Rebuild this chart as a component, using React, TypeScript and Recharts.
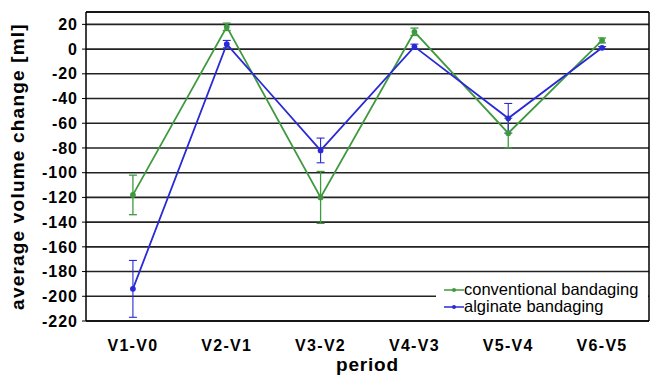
import React from 'react';
import { LineChart, Line, XAxis, YAxis, CartesianGrid, ErrorBar, Legend, ReferenceLine, Label } from 'recharts';

const periods = ['V1-V0', 'V2-V1', 'V3-V2', 'V4-V3', 'V5-V4', 'V6-V5'];
const conventional = [-118, 18, -120, 14, -68, 7];
const conventionalErr = [16, 3, 21, 3, 12, 2];
const alginate = [-194, 4, -82, 2, -56, 1];
const alginateErr = [23, 3, 10, 2, 12, 1];
const yTicks = [20, 0, -20, -40, -60, -80, -100, -120, -140, -160, -180, -200, -220];
const seriesNames = ['conventional bandaging', 'alginate bandaging'];

const GREEN = '#3f9a3f';
const BLUE = '#2a2ad6';
const FONT = '"Liberation Sans", Arial, sans-serif';

const data = periods.map((p, i) => ({
  period: p,
  conv: conventional[i],
  convErr: conventionalErr[i],
  alg: alginate[i],
  algErr: alginateErr[i],
}));

const LegendBox = () => {
  const items = [
    { name: seriesNames[0], color: GREEN },
    { name: seriesNames[1], color: BLUE },
  ];
  return (
    <div style={{ background: '#fff', width: '100%', height: '100%', fontFamily: FONT, fontSize: 16.5, color: '#000', paddingTop: 1, boxSizing: 'border-box' }}>
      {items.map((it) => (
        <div key={it.name} style={{ display: 'flex', alignItems: 'center', height: 17, lineHeight: '17px' }}>
          <svg width={20} height={8} style={{ marginLeft: 8, marginRight: 0 }}>
            <line x1={0} y1={4} x2={20} y2={4} stroke={it.color} strokeWidth={1.5} />
            <circle cx={10} cy={4} r={2} fill={it.color} />
          </svg>
          <span>{it.name}</span>
        </div>
      ))}
    </div>
  );
};

export default function App() {
  return (
    <div style={{ position: 'absolute', left: 0, top: 0, background: '#fff' }}>
      <LineChart width={650} height={375} data={data} margin={{ top: 12, right: 0, left: 0, bottom: 0 }}>
        <CartesianGrid horizontal vertical={false} stroke="#222" strokeWidth={1.6} />
        <XAxis
          dataKey="period"
          scale="band"
          height={54}
          tickLine={false}
          axisLine={{ stroke: '#000', strokeWidth: 1.5 }}
          tickMargin={13}
          tick={{ fill: '#000', fontFamily: FONT, fontSize: 16, fontWeight: 'bold', letterSpacing: 1.3 }}
        >
          <Label
            value="period"
            position="insideBottom"
            offset={4}
            style={{ fill: '#000', fontFamily: FONT, fontSize: 19, fontWeight: 'bold', letterSpacing: 0.8 }}
          />
        </XAxis>
        <YAxis
          width={86}
          domain={[-220, 30]}
          ticks={yTicks}
          interval={0}
          allowDataOverflow
          tickSize={4}
          tickMargin={4}
          tickLine={{ stroke: '#000' }}
          axisLine={{ stroke: '#000', strokeWidth: 1.5 }}
          tick={{ fill: '#000', fontFamily: FONT, fontSize: 16, fontWeight: 'bold', letterSpacing: 1 }}
        >
          <Label
            content={(props: any) => {
              const vb = props.viewBox || { x: 0, y: 0, width: 86, height: 300 };
              const cx = 17;
              const cy = vb.y + vb.height / 2;
              return (
                <text
                  x={cx}
                  y={cy}
                  transform={`rotate(-90 ${cx} ${cy})`}
                  textAnchor="middle"
                  dominantBaseline="central"
                  style={{ fill: '#000', fontFamily: FONT, fontSize: 19, fontWeight: 'bold', letterSpacing: 1.2 }}
                >
                  average volume change [ml]
                </text>
              );
            }}
          />
        </YAxis>
        <YAxis yAxisId="right" orientation="right" width={1} domain={[-220, 30]} tick={false} tickLine={false} axisLine={{ stroke: '#000', strokeWidth: 1.5 }} />
        <ReferenceLine y={30} stroke="#000" strokeWidth={1.5} />
        <Line
          type="linear"
          dataKey="conv"
          name={seriesNames[0]}
          stroke={GREEN}
          strokeWidth={1.8}
          dot={{ r: 2, fill: GREEN, stroke: GREEN }}
          isAnimationActive={false}
        >
          <ErrorBar dataKey="convErr" width={4} stroke={GREEN} strokeWidth={1.3} direction="y" />
        </Line>
        <Line
          type="linear"
          dataKey="alg"
          name={seriesNames[1]}
          stroke={BLUE}
          strokeWidth={1.8}
          dot={{ r: 2, fill: BLUE, stroke: BLUE }}
          isAnimationActive={false}
        >
          <ErrorBar dataKey="algErr" width={4} stroke={BLUE} strokeWidth={1.1} direction="y" />
        </Line>
        <Legend
          layout="horizontal"
          verticalAlign="middle"
          align="center"
          content={() => <LegendBox />}
          wrapperStyle={{ position: 'absolute', left: 436, top: 280, width: 212, height: 40 }}
        />
      </LineChart>
    </div>
  );
}
